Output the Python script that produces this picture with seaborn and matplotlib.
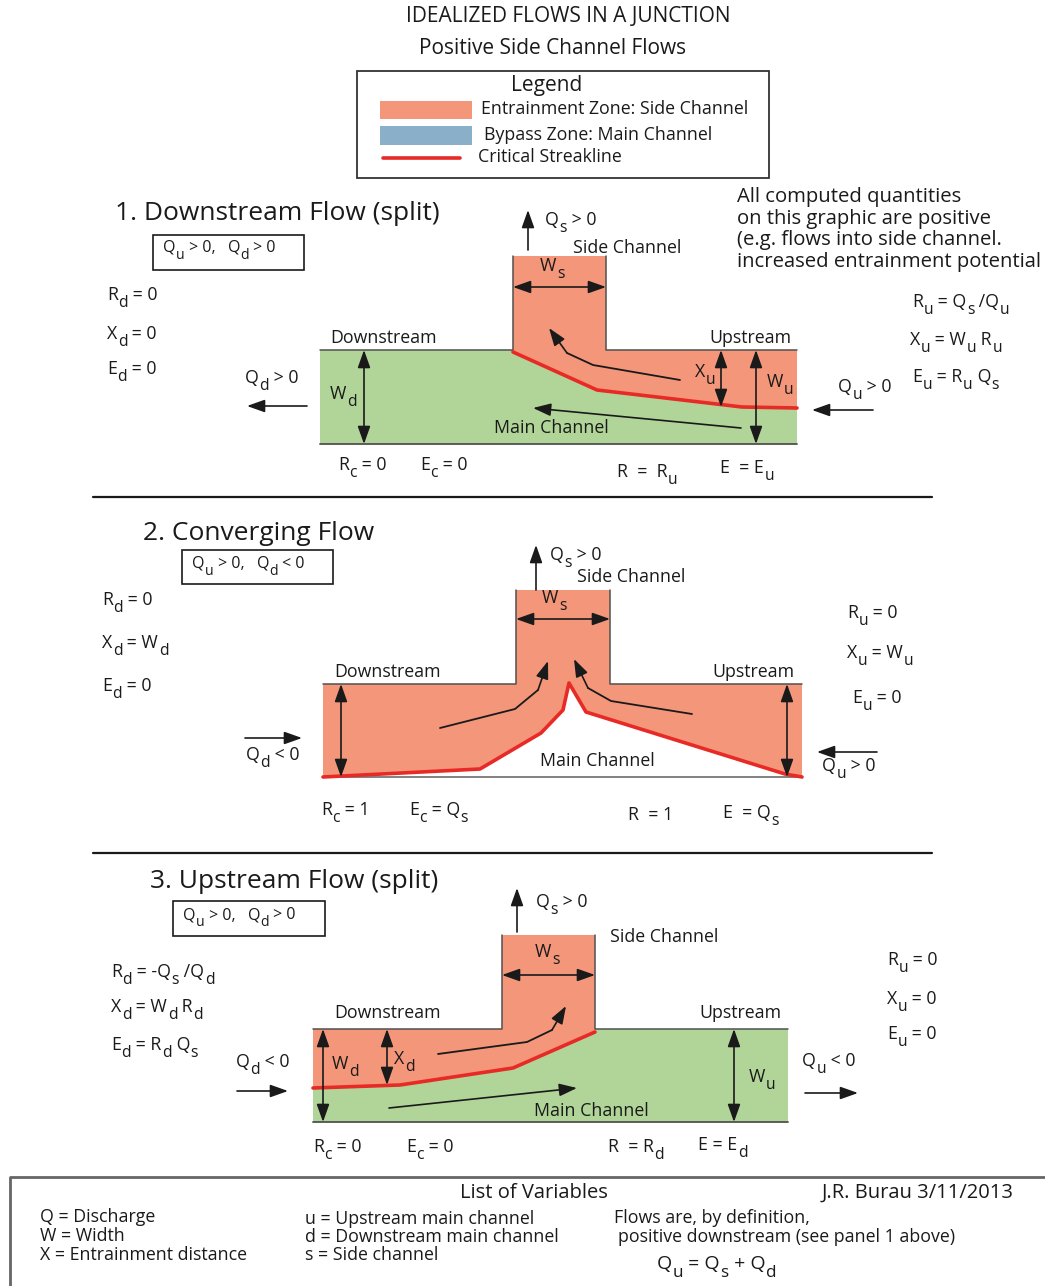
import re
import numpy as np
import pandas as pd
import seaborn as sns
import matplotlib.pyplot as plt
from matplotlib.patches import Polygon, Rectangle

sns.set_theme(style="white")
plt.rcParams["font.family"] = ["Open Sans", "DejaVu Sans"]

SALMON = "#F3967A"
GREEN = "#B1D598"
BLUE = "#8AAFC8"
RED = "#E82A26"
WALL = "#505050"
INK = "#1a1a1a"

# ---- geometry (canvas pixels, y pointing down) ----
# panel 1: downstream flow (split)
p1_main_x = [320, 797]
p1_main_y = [350, 444]
p1_side_x = [513, 606]
p1_side_top = 256
p1_streak_x = [513, 597, 742, 797]
p1_streak_y = [352, 390, 407, 408]
p1_curve_x = [680, 593, 567, 549]
p1_curve_y = [380, 365, 353, 328]
p1_flow_x = [741, 533]
p1_flow_y = [428, 408]

# panel 2: converging flow
p2_main_x = [323, 802]
p2_main_y = [684, 777]
p2_side_x = [516, 610]
p2_side_top = 590
p2_streak_x = [323, 480, 541, 563, 569, 586, 785, 802]
p2_streak_y = [777, 769, 733, 710, 683, 712, 774, 777]
p2_curve_l_x = [440, 515, 538, 548]
p2_curve_l_y = [728, 709, 690, 661]
p2_curve_r_x = [692, 611, 588, 574]
p2_curve_r_y = [714, 701, 688, 659]

# panel 3: upstream flow (split)
p3_main_x = [313, 788]
p3_main_y = [1029, 1122]
p3_side_x = [502, 595]
p3_side_top = 935
p3_streak_x = [313, 400, 513, 595]
p3_streak_y = [1088, 1085, 1068, 1032]
p3_curve_x = [438, 527, 552, 566]
p3_curve_y = [1054, 1042, 1030, 1006]
p3_flow_x = [389, 577]
p3_flow_y = [1108, 1088]

fig = plt.figure(figsize=(10.45, 12.86), dpi=100)
ax = fig.add_axes([0, 0, 1, 1])

LAB = 12.8


def txt(x, y, s, size=LAB, ha="left"):
    return ax.text(x, y, s, fontsize=size, ha=ha, va="center", color=INK)


def rich(x, y, s, size=LAB):
    # "R_d = 0" -> R, lowered d, " = 0"  (subscripts nearly full size, like the original)
    parts = [p for p in re.split(r"(_\w)", s) if p]
    first = txt(x, y, parts[0], size)
    prev = first
    for p in parts[1:]:
        if p.startswith("_"):
            prev = ax.annotate(p[1:], xy=(1, 0), xycoords=(prev, first),
                               xytext=(0.4, -0.42 * size), textcoords="offset points",
                               fontsize=size * 0.88, va="bottom", ha="left", color=INK)
        else:
            prev = ax.annotate(p, xy=(1, 0), xycoords=(prev, first),
                               xytext=(0, 0), textcoords="offset points",
                               fontsize=size, va="bottom", ha="left", color=INK)
    return first


def arrow(x0, y0, x1, y1, style="-|>"):
    ax.annotate("", xy=(x1, y1), xytext=(x0, y0),
                arrowprops=dict(arrowstyle=style + ",head_length=0.9,head_width=0.32",
                                color=INK, lw=1.2, shrinkA=0, shrinkB=0))


def curved(xs, ys):
    ax.plot(xs[:-1], ys[:-1], color=INK, lw=1.3)
    arrow(xs[-2], ys[-2], xs[-1], ys[-1])


def walls(mx, my, sx, top, bottom_col=WALL):
    ax.plot([mx[0], sx[0], sx[0]], [my[0], my[0], top], color=WALL, lw=1.1)
    ax.plot([sx[1], sx[1], mx[1]], [top, my[0], my[0]], color=WALL, lw=1.1)
    ax.plot(mx, [my[1], my[1]], color=bottom_col, lw=1.3)


def streak(xs, ys):
    sns.lineplot(x=xs, y=ys, ax=ax, color=RED, lw=2.6, sort=False, estimator=None)


# ---------------- header + legend ----------------
txt(568, 17, "IDEALIZED FLOWS IN A JUNCTION", size=15, ha="center")
txt(553, 48, "Positive Side Channel Flows", size=15, ha="center")
ax.add_patch(Rectangle((357, 71), 412, 107, fc="none", ec="#333333", lw=1.3))
txt(547, 85, "Legend", size=15, ha="center")
ax.add_patch(Rectangle((380, 101), 92, 18, fc=SALMON, ec="none"))
ax.add_patch(Rectangle((380, 126), 92, 19, fc=BLUE, ec="none"))
ax.plot([383, 460], [158, 158], color=RED, lw=2.6)
txt(481, 109, "Entrainment Zone: Side Channel", size=12.8)
txt(484, 135, "Bypass Zone: Main Channel", size=12.8)
txt(478, 157, "Critical Streakline", size=12.8)

# ---------------- panel 1 ----------------
ax.add_patch(Rectangle((p1_main_x[0], p1_main_y[0]), p1_main_x[1] - p1_main_x[0],
                       p1_main_y[1] - p1_main_y[0], fc=GREEN, ec="none"))
p1_zone = ([(p1_side_x[0], p1_side_top), (p1_side_x[1], p1_side_top),
            (p1_side_x[1], p1_main_y[0]), (p1_main_x[1], p1_main_y[0])]
           + list(zip(p1_streak_x[::-1], p1_streak_y[::-1])))
ax.add_patch(Polygon(p1_zone, closed=True, fc=SALMON, ec="none"))
walls(p1_main_x, p1_main_y, p1_side_x, p1_side_top)
streak(p1_streak_x, p1_streak_y)
curved(p1_curve_x, p1_curve_y)
arrow(p1_flow_x[0], p1_flow_y[0], p1_flow_x[1], p1_flow_y[1])

txt(115, 213, "1. Downstream Flow (split)", size=19)
ax.add_patch(Rectangle((153, 235), 151, 35, fc="none", ec=INK, lw=1.2))
rich(163, 248, "Q_u > 0,   Q_d > 0", size=11.5)
rich(107, 295, "R_d = 0")
rich(107, 334, "X_d = 0")
rich(107, 369, "E_d = 0")
rich(245, 378, "Q_d > 0")
arrow(307, 406, 247, 406)
arrow(528, 250, 528, 210)
rich(545, 220, "Q_s > 0")
txt(573, 248, "Side Channel")
rich(540, 266, "W_s")
arrow(p1_side_x[0], 287, p1_side_x[1], 287, "<|-|>")
txt(330, 338, "Downstream")
txt(709, 338, "Upstream")
arrow(364, p1_main_y[0], 364, p1_main_y[1], "<|-|>")
rich(330, 394, "W_d")
arrow(721, p1_main_y[0], 721, 407, "<|-|>")
rich(695, 372, "X_u")
arrow(756, p1_main_y[0], 756, p1_main_y[1], "<|-|>")
rich(767, 382, "W_u")
rich(838, 387, "Q_u > 0")
arrow(873, 410, 812, 410)
txt(551, 428, "Main Channel", ha="center")
rich(338, 465, "R_c = 0")
rich(420, 465, "E_c = 0")
rich(617, 472, "R  =  R_u")
rich(720, 468, "E  = E_u")
for i, line in enumerate(["All computed quantities", "on this graphic are positive",
                          "(e.g. flows into side channel.", "increased entrainment potential"]):
    txt(737, 197 + 21.7 * i, line, size=14.6)
rich(912, 302, "R_u = Q_s /Q_u")
rich(910, 340, "X_u = W_u R_u")
rich(912, 377, "E_u = R_u Q_s")

ax.plot([93, 932], [497, 497], color=INK, lw=1.6)

# ---------------- panel 2 ----------------
p2_zone = ([(p2_main_x[0], p2_main_y[0]), (p2_side_x[0], p2_main_y[0]),
            (p2_side_x[0], p2_side_top), (p2_side_x[1], p2_side_top),
            (p2_side_x[1], p2_main_y[0]), (p2_main_x[1], p2_main_y[0])]
           + list(zip(p2_streak_x[::-1], p2_streak_y[::-1])))
ax.add_patch(Polygon(p2_zone, closed=True, fc=SALMON, ec="none"))
walls(p2_main_x, p2_main_y, p2_side_x, p2_side_top, bottom_col="#777777")
streak(p2_streak_x, p2_streak_y)
curved(p2_curve_l_x, p2_curve_l_y)
curved(p2_curve_r_x, p2_curve_r_y)

txt(143, 533, "2. Converging Flow", size=19)
ax.add_patch(Rectangle((182, 550), 151, 34, fc="none", ec=INK, lw=1.2))
rich(192, 564, "Q_u > 0,   Q_d < 0", size=11.5)
rich(102, 600, "R_d = 0")
rich(102, 643, "X_d = W_d")
rich(102, 686, "E_d = 0")
arrow(536, 590, 536, 545)
rich(550, 555, "Q_s > 0")
txt(577, 577, "Side Channel")
rich(542, 598, "W_s")
arrow(p2_side_x[0], 619, p2_side_x[1], 619, "<|-|>")
txt(334, 672, "Downstream")
txt(712, 672, "Upstream")
arrow(341, p2_main_y[0], 341, p2_main_y[1], "<|-|>")
arrow(787, p2_main_y[0], 787, p2_main_y[1], "<|-|>")
rich(246, 755, "Q_d < 0")
arrow(245, 738, 302, 738)
rich(822, 766, "Q_u > 0")
arrow(877, 752, 817, 752)
txt(597, 761, "Main Channel", ha="center")
rich(321, 810, "R_c = 1")
rich(409, 810, "E_c = Q_s")
txt(628, 815, "R  = 1")
rich(723, 813, "E  = Q_s")
rich(847, 613, "R_u = 0")
rich(847, 653, "X_u = W_u")
rich(852, 698, "E_u = 0")

ax.plot([93, 932], [853, 853], color=INK, lw=1.6)

# ---------------- panel 3 ----------------
ax.add_patch(Rectangle((p3_main_x[0], p3_main_y[0]), p3_main_x[1] - p3_main_x[0],
                       p3_main_y[1] - p3_main_y[0], fc=GREEN, ec="none"))
p3_zone = ([(p3_main_x[0], p3_main_y[0]), (p3_side_x[0], p3_main_y[0]),
            (p3_side_x[0], p3_side_top), (p3_side_x[1], p3_side_top)]
           + list(zip(p3_streak_x[::-1], p3_streak_y[::-1])))
ax.add_patch(Polygon(p3_zone, closed=True, fc=SALMON, ec="none"))
walls(p3_main_x, p3_main_y, p3_side_x, p3_side_top)
streak(p3_streak_x, p3_streak_y)
curved(p3_curve_x, p3_curve_y)
arrow(p3_flow_x[0], p3_flow_y[0], p3_flow_x[1], p3_flow_y[1])

txt(150, 882, "3. Upstream Flow (split)", size=19)
ax.add_patch(Rectangle((173, 901), 152, 35, fc="none", ec=INK, lw=1.2))
rich(183, 915, "Q_u > 0,   Q_d > 0", size=11.5)
rich(111, 972, "R_d = -Q_s /Q_d")
rich(111, 1007, "X_d = W_d R_d")
rich(111, 1045, "E_d = R_d Q_s")
arrow(517, 932, 517, 888)
rich(536, 902, "Q_s > 0")
txt(610, 937, "Side Channel")
rich(535, 952, "W_s")
arrow(p3_side_x[0], 975, p3_side_x[1], 975, "<|-|>")
txt(334, 1013, "Downstream")
txt(699, 1013, "Upstream")
arrow(323, p3_main_y[0], 323, p3_main_y[1], "<|-|>")
rich(332, 1064, "W_d")
arrow(387, p3_main_y[0], 387, 1085, "<|-|>")
rich(394, 1059, "X_d")
arrow(734, p3_main_y[0], 734, p3_main_y[1], "<|-|>")
rich(749, 1077, "W_u")
rich(236, 1062, "Q_d < 0")
arrow(237, 1091, 288, 1091)
rich(802, 1061, "Q_u < 0")
arrow(805, 1093, 858, 1093)
txt(591, 1111, "Main Channel", ha="center")
rich(313, 1147, "R_c = 0")
rich(406, 1147, "E_c = 0")
rich(608, 1147, "R  = R_d")
rich(698, 1145, "E = E_d")
rich(887, 960, "R_u = 0")
rich(887, 999, "X_u = 0")
rich(887, 1034, "E_u = 0")

# ---------------- list of variables ----------------
ax.plot([10, 10, 1045], [1290, 1177, 1177], color="#666666", lw=2)
txt(534, 1193, "List of Variables", size=14.5, ha="center")
txt(822, 1193, "J.R. Burau 3/11/2013", size=14.5)
for i, line in enumerate(["Q = Discharge", "W = Width", "X = Entrainment distance"]):
    txt(40, 1217 + 19 * i, line, size=12.8)
for i, line in enumerate(["u = Upstream main channel", "d = Downstream main channel", "s = Side channel"]):
    txt(305, 1219 + 18 * i, line, size=12.8)
txt(614, 1218, "Flows are, by definition,", size=12.8)
txt(618, 1237, "positive downstream (see panel 1 above)", size=12.8)
rich(657, 1264, "Q_u = Q_s + Q_d", size=14)

ax.set_xlim(0, 1045)
ax.set_ylim(1286, 0)
ax.axis("off")
fig.savefig("out.png", dpi=100)
